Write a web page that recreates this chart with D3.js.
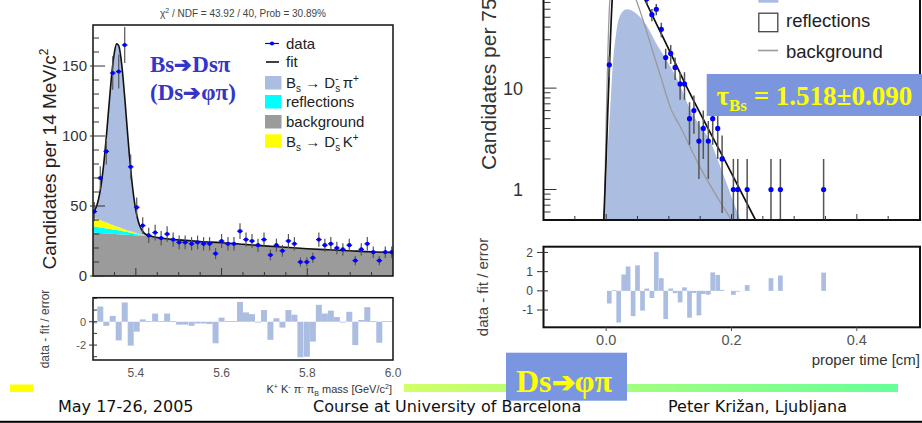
<!DOCTYPE html>
<html>
<head>
<meta charset="utf-8">
<script src="https://cdn.jsdelivr.net/npm/d3@7"></script>
<style>
  html, body { margin: 0; padding: 0; background: #fff; }
  svg { display: block; }
</style>
</head>
<body>
<svg id="chart" width="922" height="423"></svg>
<script>
// ---------------- B_s -> D_s pi : mass fit (left) ----------------
// data histogram, 14 MeV/c^2 bins
const massCenters = [5.303, 5.317, 5.331, 5.346, 5.360, 5.374, 5.388, 5.402, 5.416, 5.430,
  5.445, 5.459, 5.473, 5.487, 5.501, 5.515, 5.530, 5.544, 5.558, 5.572,
  5.586, 5.600, 5.615, 5.629, 5.643, 5.657, 5.671, 5.685, 5.699, 5.714,
  5.728, 5.742, 5.756, 5.770, 5.784, 5.799, 5.813, 5.827, 5.841, 5.855,
  5.869, 5.883, 5.898, 5.912, 5.926, 5.940, 5.954, 5.968, 5.982, 5.997];
const massCounts = [46, 70, 89, 145, 146, 165, 78, 49, 36, 29,
  31, 27, 30, 26, 24, 24, 23, 24, 23, 23,
  16, 25, 23, 23, 32, 26, 25, 22, 26, 15,
  22, 18, 25, 23, 10, 10, 13, 26, 22, 23,
  20, 19, 22, 11, 19, 23, 17, 11, 17, 17];
const massPulls = [-0.15, 1.3, -0.35, 0.5, -1.6, 1.65, -2.05, -0.85, 0.2, 0.05,
  0.7, 0.05, 0.7, 0.05, -0.25, -0.25, -0.35, -0.15, -0.15, -0.2,
  -1.85, 0.35, 0.05, 0.05, 1.7, 0.8, 0.65, -0.05, 1.0, -1.55,
  0.3, -0.5, 1.0, 0.6, -3.05, -3.0, -1.7, 1.45, 0.7, 0.95,
  0.4, -0.05, 0.85, -2.0, 0.15, 1.25, 0.05, -1.8, 0.05, 0.05];

// fit components, sampled along the mass axis
const massGrid = [5.300, 5.305, 5.310, 5.315, 5.320, 5.325, 5.330, 5.335, 5.340, 5.345,
  5.350, 5.355, 5.360, 5.365, 5.370, 5.375, 5.380, 5.385, 5.390, 5.395,
  5.400, 5.405, 5.410, 5.415, 5.420, 5.425, 5.430, 5.440, 5.450, 5.500,
  5.550, 5.600, 5.650, 5.700, 5.750, 5.800, 5.850, 5.900, 5.950, 6.000];
const bgLevel = [31.0, 30.9, 30.8, 30.7, 30.6, 30.5, 30.4, 30.3, 30.2, 30.1,
  30.0, 29.9, 29.8, 29.7, 29.6, 29.5, 29.4, 29.3, 29.2, 29.1,
  29.0, 28.9, 28.8, 28.7, 28.6, 28.5, 28.4, 28.0, 27.5, 25.8,
  24.6, 23.8, 22.7, 21.5, 20.5, 19.5, 18.7, 18.0, 17.3, 16.9];
const reflLevel = [4.5, 4.4, 4.2, 4.1, 4.0, 3.8, 3.7, 3.5, 3.4, 3.2,
  3.0, 2.9, 2.8, 2.6, 2.4, 2.2, 2.0, 1.8, 1.6, 1.4,
  1.2, 1.0, 0.8, 0.6, 0.4, 0.3, 0.2, 0.05, 0, 0,
  0, 0, 0, 0, 0, 0, 0, 0, 0, 0];
const dsKLevel = [6.5, 6.1, 5.8, 5.4, 5.0, 4.6, 4.3, 4.0, 3.6, 3.3,
  2.9, 2.6, 2.4, 2.1, 1.8, 1.6, 1.3, 1.1, 0.9, 0.7,
  0.5, 0.35, 0.2, 0.1, 0, 0, 0, 0, 0, 0,
  0, 0, 0, 0, 0, 0, 0, 0, 0, 0];
const sigLevel = [3.3, 6.1, 10.7, 17.8, 27.7, 41.0, 57.3, 75.7, 94.4, 111.3,
  123.9, 130.4, 129.6, 121.8, 108.2, 90.7, 71.9, 53.8, 38.1, 25.5,
  16.1, 9.6, 5.4, 2.9, 1.5, 0.7, 0.3, 0.05, 0, 0,
  0, 0, 0, 0, 0, 0, 0, 0, 0, 0];

const massYTicks = [0, 50, 100, 150];
const massXTicks = [5.4, 5.6, 5.8, 6.0];
const massPullTicks = [0, -2];

// ---------------- proper time fit (right) ----------------
const timeCenters = [0.005, 0.013, 0.020, 0.028, 0.035, 0.043, 0.050, 0.058, 0.065, 0.073,
  0.080, 0.088, 0.095, 0.103, 0.110, 0.118, 0.125, 0.133, 0.140, 0.148,
  0.155, 0.163, 0.170, 0.178, 0.185, 0.203, 0.210, 0.225, 0.263, 0.278, 0.347];
const timeCounts = [17, 160, 230, 210, 170, 140, 115, 95, 76, 53,
  60, 38, 20, 22, 16, 11, 11, 5, 6, 3,
  4, 3, 5, 4, 2, 1, 1, 1, 1, 1, 1];
const timePulls = [-0.66, 0.03, -1.65, 0.85, 1.27, -1.32, 1.33, -1.03, 0.12, -0.37,
  2.02, 0.66, -1.47, 0.12, -0.12, -0.6, 0.18, -1.4, -0.11, -1.28,
  -0.16, -0.2, 0.96, 0.83, 0.05, -0.21, -0.03, 0.3, 0.66, 0.8, 0.95];

const timeFitT = [-0.0038, 0.0, 0.0026, 0.0053, 0.0096, 0.015, 0.025, 0.040, 0.062, 0.095, 0.1285, 0.160, 0.190, 0.2383];
const timeFitV = [0.5, 2.0, 6.0, 17, 74, 140, 200, 150, 74, 28, 10.3, 4.3, 1.9, 0.5];
const timeSigT = [-0.003, 0.0, 0.0035, 0.0064, 0.010, 0.016, 0.024, 0.033, 0.048, 0.064, 0.080, 0.096, 0.114, 0.136, 0.150, 0.166, 0.181, 0.200, 0.214];
const timeSigV = [0.5, 1.2, 3.2, 6.0, 15, 35, 54.5, 60, 54.5, 42, 27.6, 19, 12, 5.8, 4.2, 3.0, 1.75, 0.85, 0.5];
const timeBgT = [-0.003, 0.006, 0.020, 0.048, 0.0878, 0.104, 0.117, 0.149, 0.189, 0.200];
const timeBgV = [0.5, 74, 200, 74, 12.5, 6.1, 4.3, 1.7, 0.64, 0.5];

const timeYTicks = [1, 10];
const timeXTicks = [0.0, 0.2, 0.4];
const timePullTicks = [2, 1, 0, -1];

// ---------------- drawing ----------------
const SANS = "'Liberation Sans', Arial, sans-serif";
const SERIF = "'Liberation Serif', 'Times New Roman', serif";
const FOOT = "'DejaVu Sans', Tahoma, Verdana, sans-serif";
const SIG = '#abbde1';

const svg = d3.select('#chart');

const xL = d3.scaleLinear().domain([5.3, 6.0]).range([93, 393]);
const yL = d3.scaleLinear().domain([0, 179.3]).range([276, 25]);
const yLP = d3.scaleLinear().domain([-3.28, 2.06]).range([360, 297.7]);
const xR = d3.scaleLinear().domain([-0.1, 0.5]).range([543.5, 919.5]);
const yR = d3.scaleLog().domain([0.5, 74]).range([220, 0]);
const yRP = d3.scaleLinear().domain([-1.9, 2.3]).range([327.3, 246.7]);

const defs = svg.append('defs');
function clip(id, x, y, w, h) {
  defs.append('clipPath').attr('id', id).append('rect')
    .attr('x', x).attr('y', y).attr('width', w).attr('height', h);
}
clip('clipL', 93, 25, 300, 251);
clip('clipLP', 93, 297.7, 300, 62.3);
clip('clipR', 543.5, -30, 376, 250);
clip('clipRP', 543.5, 246.7, 376, 80.6);

// text with sub/superscripts: parts = [{t, shift, size, dx}]
function rich(parent, x, y, parts, attrs) {
  const t = parent.append('text').attr('x', x).attr('y', y);
  Object.entries(attrs || {}).forEach(([k, v]) => t.attr(k, v));
  let cur = 0;
  parts.forEach(p => {
    const s = p.shift || 0;
    const ts = t.append('tspan').text(p.t).attr('dy', s - cur);
    if (p.size) ts.attr('font-size', p.size);
    if (p.dx) ts.attr('dx', p.dx);
    cur = s;
  });
  return t;
}

// ===== left: mass plot =====
const gL = svg.append('g').attr('clip-path', 'url(#clipL)');
const rows = massGrid.map((m, i) => ({ m, bg: bgLevel[i], refl: reflLevel[i], dsk: dsKLevel[i], sig: sigLevel[i] }));
const layers = d3.stack().keys(['bg', 'refl', 'dsk', 'sig'])(rows);
const layerFill = { bg: '#9b9b9b', refl: '#00ffff', dsk: '#ffff00', sig: SIG };
const areaL = d3.area().x(d => xL(d.data.m)).y0(d => yL(d[0])).y1(d => yL(d[1])).curve(d3.curveMonotoneX);
gL.selectAll('path.layer').data(layers).join('path')
  .attr('class', 'layer').attr('d', areaL).attr('fill', d => layerFill[d.key]);
const fitL = d3.line().x(d => xL(d.data.m)).y(d => yL(d[1])).curve(d3.curveMonotoneX);
gL.append('path').datum(layers[3]).attr('d', fitL)
  .attr('fill', 'none').attr('stroke', '#111').attr('stroke-width', 1.6);

const ptsL = massCenters.map((m, i) => ({ m, n: massCounts[i] }));
gL.selectAll('line.err').data(ptsL).join('line').attr('class', 'err')
  .attr('x1', d => xL(d.m)).attr('x2', d => xL(d.m))
  .attr('y1', d => yL(d.n + Math.sqrt(d.n))).attr('y2', d => yL(d.n - Math.sqrt(d.n)))
  .attr('stroke', '#555').attr('stroke-width', 1.2);
gL.selectAll('line.bw').data(ptsL).join('line').attr('class', 'bw')
  .attr('x1', d => xL(d.m) - 2.8).attr('x2', d => xL(d.m) + 2.8)
  .attr('y1', d => yL(d.n)).attr('y2', d => yL(d.n))
  .attr('stroke', '#0000ff').attr('stroke-width', 1.2);
gL.selectAll('circle').data(ptsL).join('circle')
  .attr('cx', d => xL(d.m)).attr('cy', d => yL(d.n)).attr('r', 2.1).attr('fill', '#0000ff');

// frame + ticks
svg.append('rect').attr('x', 93).attr('y', 25).attr('width', 300).attr('height', 251)
  .attr('fill', 'none').attr('stroke', '#111').attr('stroke-width', 1.5);
const tickL = svg.append('g').attr('stroke', '#333').attr('stroke-width', 1);
d3.range(0, 180, 10).forEach(v => {
  const major = v % 50 === 0;
  tickL.append('line').attr('x1', major ? 90 : 93).attr('x2', 93 + (major ? 12 : 6))
    .attr('y1', yL(v)).attr('y2', yL(v));
});
d3.range(5.35, 5.99, 0.05).forEach(v => {
  const major = massXTicks.some(t => Math.abs(t - v) < 1e-6);
  tickL.append('line').attr('x1', xL(v)).attr('x2', xL(v))
    .attr('y1', 276).attr('y2', 276 - (major ? 8 : 4));
});
svg.append('g').selectAll('text').data(massYTicks).join('text')
  .attr('x', 87).attr('y', d => yL(d)).attr('dy', '0.36em')
  .attr('text-anchor', 'end').attr('font-family', SANS).attr('font-size', 15).attr('fill', '#333')
  .text(d => d);

// title
rich(svg, 243, 17, [{ t: 'χ' }, { t: '2', shift: -4, size: 7 }, { t: ' / NDF = 43.92 / 40, Prob = 30.89%' }],
  { 'text-anchor': 'middle', 'font-family': SANS, 'font-size': 10, fill: '#444' });

// y title
const ytl = svg.append('g').attr('transform', 'translate(55.5,159) rotate(-90)');
rich(ytl, 0, 0, [{ t: 'Candidates per 14 MeV/c' }, { t: '2', shift: -8, size: 12 }],
  { 'text-anchor': 'middle', 'font-family': SANS, 'font-size': 19, fill: '#222' });

// legend
const legL = svg.append('g').attr('font-family', SANS).attr('font-size', 15).attr('fill', '#222');
legL.append('line').attr('x1', 265).attr('x2', 279).attr('y1', 43.5).attr('y2', 43.5).attr('stroke', '#0000ff').attr('stroke-width', 1.2);
legL.append('circle').attr('cx', 272).attr('cy', 43.5).attr('r', 2.1).attr('fill', '#0000ff');
legL.append('line').attr('x1', 266).attr('x2', 279).attr('y1', 62).attr('y2', 62).attr('stroke', '#111').attr('stroke-width', 1.6);
[[76, SIG], [95, '#00ffff'], [115, '#9b9b9b'], [134.3, '#ffff00']].forEach(([y, c]) =>
  legL.append('rect').attr('x', 265).attr('y', y).attr('width', 16.5).attr('height', 13.5).attr('fill', c));
legL.append('text').attr('x', 286).attr('y', 48.5).text('data');
legL.append('text').attr('x', 286).attr('y', 67).text('fit');
rich(legL, 286, 87.5, [{ t: 'B' }, { t: 's', shift: 4, size: 10 }, { t: ' → D' }, { t: 's', shift: 4, size: 10 },
  { t: '-', shift: -6, size: 10, dx: -5 }, { t: ' π' }, { t: '+', shift: -6, size: 10 }]);
legL.append('text').attr('x', 286).attr('y', 106.5).text('reflections');
legL.append('text').attr('x', 286).attr('y', 127).text('background');
rich(legL, 286, 146.5, [{ t: 'B' }, { t: 's', shift: 4, size: 10 }, { t: ' → D' }, { t: 's', shift: 4, size: 10 },
  { t: '-', shift: -6, size: 10, dx: -5 }, { t: ' K' }, { t: '+', shift: -6, size: 10 }]);

// decay channel caption
const cap = svg.append('g').attr('font-family', SERIF).attr('font-weight', 'bold').attr('font-size', 23).attr('fill', '#3535c8');
rich(cap, 150, 72, [{ t: 'Bs' }, { t: '➔', size: 21 }, { t: 'Ds' }, { t: 'π' }]);
rich(cap, 150, 100, [{ t: '(Ds' }, { t: '➔', size: 21 }, { t: 'φπ)' }]);

// pulls (left)
const gLP = svg.append('g').attr('clip-path', 'url(#clipLP)');
gLP.selectAll('rect').data(massCenters).join('rect')
  .attr('x', d => xL(d - 0.007)).attr('width', xL(5.314) - xL(5.3))
  .attr('y', (d, i) => yLP(Math.max(massPulls[i], 0)))
  .attr('height', (d, i) => Math.max(Math.abs(yLP(massPulls[i]) - yLP(0)), 0.8))
  .attr('fill', SIG);
svg.append('rect').attr('x', 93).attr('y', 297.7).attr('width', 300).attr('height', 62.3)
  .attr('fill', 'none').attr('stroke', '#111').attr('stroke-width', 1.5);
d3.range(-3, 3, 1).forEach(v => {
  const major = massPullTicks.includes(v);
  svg.append('line').attr('x1', major ? 89 : 93).attr('x2', 97).attr('y1', yLP(v)).attr('y2', yLP(v))
    .attr('stroke', '#333');
});
svg.append('g').selectAll('text').data(massPullTicks).join('text')
  .attr('x', 86).attr('y', d => yLP(d)).attr('dy', '0.36em').attr('text-anchor', 'end')
  .attr('font-family', SANS).attr('font-size', 11).attr('fill', '#555').text(d => d);
svg.append('g').selectAll('text').data(massXTicks).join('text')
  .attr('x', d => xL(d)).attr('y', 377).attr('text-anchor', 'middle')
  .attr('font-family', SANS).attr('font-size', 12).attr('fill', '#555').text(d => d.toFixed(1));
rich(svg, 392, 392.5, [{ t: 'K' }, { t: '+', shift: -4, size: 7 }, { t: ' K' }, { t: '-', shift: -4, size: 7 },
  { t: ' π' }, { t: '-', shift: -4, size: 7 }, { t: ' π' }, { t: 'B', shift: 3, size: 7 },
  { t: ' mass [GeV/c' }, { t: '2', shift: -4, size: 7 }, { t: ']' }],
  { 'text-anchor': 'end', 'font-family': SANS, 'font-size': 11, fill: '#333' });
const ylp = svg.append('g').attr('transform', 'translate(48.5,329) rotate(-90)');
ylp.append('text').attr('text-anchor', 'middle').attr('font-family', SANS).attr('font-size', 12)
  .attr('fill', '#444').text('data - fit / error');

// ===== right: proper time plot =====
const gR = svg.append('g').attr('clip-path', 'url(#clipR)');
const zip = (a, b) => a.map((v, i) => [v, b[i]]);
const areaR = d3.area().x(d => xR(d[0])).y0(yR(0.5)).y1(d => yR(d[1])).curve(d3.curveMonotoneX);
const lineR = d3.line().x(d => xR(d[0])).y(d => yR(d[1])).curve(d3.curveMonotoneX);
gR.append('path').datum(zip(timeSigT, timeSigV)).attr('d', areaR).attr('fill', SIG);
gR.append('path').datum(zip(timeBgT, timeBgV)).attr('d', lineR)
  .attr('fill', 'none').attr('stroke', '#9a9a9a').attr('stroke-width', 1.3);
gR.append('path').datum(zip(timeFitT, timeFitV)).attr('d', lineR)
  .attr('fill', 'none').attr('stroke', '#111').attr('stroke-width', 1.7);
const ptsR = timeCenters.map((t, i) => ({ t, n: timeCounts[i] }));
gR.selectAll('line.err').data(ptsR).join('line').attr('class', 'err')
  .attr('x1', d => xR(d.t)).attr('x2', d => xR(d.t))
  .attr('y1', d => yR(d.n + Math.sqrt(d.n))).attr('y2', d => yR(Math.max(d.n - Math.sqrt(d.n), 0.5)))
  .attr('stroke', '#555').attr('stroke-width', 1.5);
gR.selectAll('circle').data(ptsR).join('circle')
  .attr('cx', d => xR(d.t)).attr('cy', d => yR(d.n)).attr('r', 2.6).attr('fill', '#0000ff');

// frame + ticks
svg.append('path').attr('d', 'M543.5,-5V220H920V-5').attr('fill', 'none').attr('stroke', '#111').attr('stroke-width', 2);
const tickR = svg.append('g').attr('stroke', '#333').attr('stroke-width', 1);
[0.6, 0.7, 0.8, 0.9, 1, 2, 3, 4, 5, 6, 7, 8, 9, 10, 20, 30, 40, 50, 60, 70].forEach(v => {
  const major = timeYTicks.includes(v);
  tickR.append('line').attr('x1', 543.5).attr('x2', 543.5 + (major ? 13 : 7)).attr('y1', yR(v)).attr('y2', yR(v));
});
d3.range(-0.05, 0.46, 0.05).forEach(v => {
  const major = timeXTicks.some(t => Math.abs(t - v) < 1e-6);
  tickR.append('line').attr('x1', xR(v)).attr('x2', xR(v)).attr('y1', 220).attr('y2', 220 - (major ? 6 : 4));
});
svg.append('g').selectAll('text').data(timeYTicks).join('text')
  .attr('x', 523).attr('y', d => yR(d)).attr('dy', '0.36em').attr('text-anchor', 'end')
  .attr('font-family', SANS).attr('font-size', 18).attr('fill', '#333').text(d => d);
const ytr = svg.append('g').attr('transform', 'translate(496,170) rotate(-90)');
ytr.append('text').attr('font-family', SANS).attr('font-size', 21).attr('fill', '#333').text('Candidates per 75 μm');

// legend (right)
const legR = svg.append('g').attr('font-family', SANS).attr('font-size', 18.5).attr('fill', '#222');
legR.append('rect').attr('x', 758.3).attr('y', -17).attr('width', 20).attr('height', 19.7).attr('fill', SIG);
legR.append('rect').attr('x', 758.8).attr('y', 13.2).attr('width', 19).attr('height', 18.5)
  .attr('fill', '#fff').attr('stroke', '#444').attr('stroke-width', 1.3);
legR.append('line').attr('x1', 758).attr('x2', 778).attr('y1', 50.5).attr('y2', 50.5)
  .attr('stroke', '#9a9a9a').attr('stroke-width', 1.6);
legR.append('text').attr('x', 786).attr('y', 27).text('reflections');
legR.append('text').attr('x', 786).attr('y', 57.5).text('background');

// lifetime result
svg.append('rect').attr('x', 706.7).attr('y', 74).attr('width', 216).attr('height', 42).attr('fill', '#7b96dc');
rich(svg, 716.5, 105, [{ t: 'τ' }, { t: 'Bs', shift: 6, size: 17 }, { t: ' = 1.518±0.090' }],
  { 'font-family': SERIF, 'font-weight': 'bold', 'font-size': 27, fill: '#ffff00' });

// pulls (right)
const gRP = svg.append('g').attr('clip-path', 'url(#clipRP)');
gRP.selectAll('rect').data(timeCenters).join('rect')
  .attr('x', d => xR(d - 0.00375)).attr('width', xR(0.0075) - xR(0))
  .attr('y', (d, i) => yRP(Math.max(timePulls[i], 0)))
  .attr('height', (d, i) => Math.max(Math.abs(yRP(timePulls[i]) - yRP(0)), 0.8))
  .attr('fill', SIG);
svg.append('rect').attr('x', 543.5).attr('y', 246.7).attr('width', 376.5).attr('height', 80.6)
  .attr('fill', 'none').attr('stroke', '#111').attr('stroke-width', 2);
timePullTicks.forEach(v => svg.append('line').attr('x1', 537).attr('x2', 548)
  .attr('y1', yRP(v)).attr('y2', yRP(v)).attr('stroke', '#333'));
timeXTicks.forEach(v => svg.append('line').attr('x1', xR(v)).attr('x2', xR(v))
  .attr('y1', 327.3).attr('y2', 331).attr('stroke', '#555'));
svg.append('g').selectAll('text').data(timePullTicks).join('text')
  .attr('x', 533).attr('y', d => yRP(d)).attr('dy', '0.36em').attr('text-anchor', 'end')
  .attr('font-family', SANS).attr('font-size', 12).attr('fill', '#444').text(d => d);
svg.append('g').selectAll('text').data(timeXTicks).join('text')
  .attr('x', d => xR(d)).attr('y', 345).attr('text-anchor', 'middle')
  .attr('font-family', SANS).attr('font-size', 14.5).attr('fill', '#555').text(d => d.toFixed(1));
svg.append('text').attr('x', 920).attr('y', 364.5).attr('text-anchor', 'end')
  .attr('font-family', SANS).attr('font-size', 15).attr('fill', '#333').text('proper time [cm]');
const yrp = svg.append('g').attr('transform', 'translate(488,287) rotate(-90)');
yrp.append('text').attr('text-anchor', 'middle').attr('font-family', SANS).attr('font-size', 15)
  .attr('fill', '#444').text('data - fit / error');

// ===== footer =====
const grad = defs.append('linearGradient').attr('id', 'bar').attr('x1', 0).attr('x2', 1);
grad.append('stop').attr('offset', 0).attr('stop-color', '#d2ff66');
grad.append('stop').attr('offset', 1).attr('stop-color', '#66ff99');
svg.append('rect').attr('x', 10).attr('y', 384.5).attr('width', 23).attr('height', 7.5).attr('fill', '#ffff00');
svg.append('rect').attr('x', 404).attr('y', 384).attr('width', 494).attr('height', 8).attr('fill', 'url(#bar)');
svg.append('rect').attr('x', 506).attr('y', 352.7).attr('width', 121).attr('height', 48).attr('fill', '#7b96e0');
rich(svg, 516, 392, [{ t: 'Ds' }, { t: '➔', size: 28 }, { t: 'φπ' }],
  { 'font-family': SERIF, 'font-weight': 'bold', 'font-size': 32, fill: '#ffff00' });

const foot = svg.append('g').attr('font-family', FOOT).attr('font-size', 16).attr('fill', '#111');
foot.append('text').attr('x', 58).attr('y', 411.5).text('May 17-26, 2005');
foot.append('text').attr('x', 313).attr('y', 411.5).text('Course at University of Barcelona');
foot.append('text').attr('x', 668).attr('y', 411.5).text('Peter Križan, Ljubljana');
svg.append('rect').attr('x', 0).attr('y', 420.8).attr('width', 922).attr('height', 2).attr('fill', '#000');
</script>
</body>
</html>
